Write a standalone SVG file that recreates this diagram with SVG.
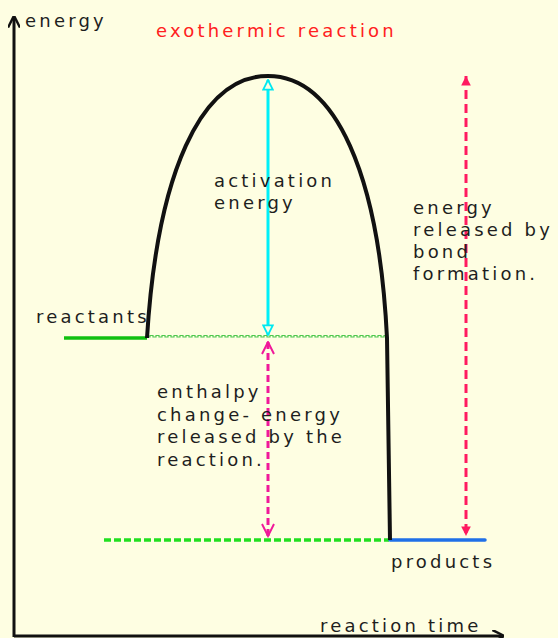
<svg xmlns="http://www.w3.org/2000/svg" width="558" height="638" viewBox="0 0 558 638">
<style>
text{font-family:"DejaVu Sans","Liberation Sans",sans-serif;font-size:18px;letter-spacing:3.2px;fill:#1e1e1e}
.red{fill:#ff2020}
</style>
<defs>
<marker id="ax" viewBox="0 0 10 10" refX="8" refY="5" markerWidth="4" markerHeight="4" orient="auto"><path d="M0,0 L10,5 L0,10" fill="none" stroke="#111" stroke-width="2"/></marker>
<marker id="cy" viewBox="0 0 10 10" refX="9" refY="5" markerWidth="4" markerHeight="4" orient="auto-start-reverse"><path d="M1,1 L9,5 L1,9 Z" fill="#fefee2" stroke="#00e8f0" stroke-width="1.5"/></marker>
<marker id="mg" viewBox="0 0 10 10" refX="9" refY="5" markerWidth="5" markerHeight="5" orient="auto-start-reverse"><path d="M1,1 L9,5 L1,9" fill="none" stroke="#f0189a" stroke-width="1.3"/></marker>
<marker id="rd" viewBox="0 0 10 10" refX="9" refY="5" markerWidth="4" markerHeight="4" orient="auto-start-reverse"><path d="M1,1 L9,5 L1,9 Z" fill="#ff1a60"/></marker>
</defs>
<rect width="558" height="638" fill="#fefee2"/>
<g id="axes">
<line x1="14" y1="637" x2="14" y2="18" stroke="#111" stroke-width="3" marker-end="url(#ax)"/>
<line x1="14" y1="636" x2="502" y2="636" stroke="#111" stroke-width="3" marker-end="url(#ax)"/>
</g>
<g id="levels">
<line x1="64" y1="338" x2="147" y2="338" stroke="#10c010" stroke-width="3.5"/>
<path d="M147,337 h3 v-1.5 h3 v1.5 h3 v-1.5 h3 v1.5 h3 v-1.5 h3 v1.5 h3 v-1.5 h3 v1.5 h3 v-1.5 h3 v1.5 h3 v-1.5 h3 v1.5 h3 v-1.5 h3 v1.5 h3 v-1.5 h3 v1.5 h3 v-1.5 h3 v1.5 h3 v-1.5 h3 v1.5 h3 v-1.5 h3 v1.5 h3 v-1.5 h3 v1.5 h3 v-1.5 h3 v1.5 h3 v-1.5 h3 v1.5 h3 v-1.5 h3 v1.5 h3 v-1.5 h3 v1.5 h3 v-1.5 h3 v1.5 h3 v-1.5 h3 v1.5 h3 v-1.5 h3 v1.5 h3 v-1.5 h3 v1.5 h3 v-1.5 h3 v1.5 h3 v-1.5 h3 v1.5 h3 v-1.5 h3 v1.5 h3 v-1.5 h3 v1.5 h3 v-1.5 h3 v1.5 h3 v-1.5 h3 v1.5 h3 v-1.5 h3 v1.5 h3 v-1.5 h3 v1.5 h3 v-1.5 h3 v1.5 h3 v-1.5 h3 v1.5 h3 v-1.5 h3 v1.5 h3 v-1.5 h3 v1.5 h3 v-1.5 h3 v1.5 h3 v-1.5 h3 v1.5 h3 v-1.5 h3 v1.5 h3 v-1.5 h3 v1.5 h3 v-1.5 h3 v1.5 h3 v-1.5 h3 v1.5 h3 v-1.5 h3 v1.5 h3 v-1.5 h3 v1.5" fill="none" stroke="#50c850" stroke-width="1.2"/>
<line x1="104" y1="540" x2="389" y2="540" stroke="#20e020" stroke-width="3.5" stroke-dasharray="7,3"/>
<line x1="390" y1="540" x2="485" y2="540" stroke="#2070e8" stroke-width="3.5" stroke-linecap="round"/>
</g>
<g id="curve">
<path d="M147,338 C157,175 200,76 268,76 C336,76 379,175 387,338 L390,540" fill="none" stroke="#111" stroke-width="4"/>
</g>
<g id="connectors">
<line x1="268" y1="80" x2="268" y2="335" stroke="#00f0f8" stroke-width="3" marker-start="url(#cy)" marker-end="url(#cy)"/>
<line x1="268" y1="342" x2="268" y2="536" stroke="#f0189a" stroke-width="3" stroke-dasharray="7,4" marker-start="url(#mg)" marker-end="url(#mg)"/>
<line x1="466" y1="76" x2="466" y2="536" stroke="#ff1a60" stroke-width="3" stroke-dasharray="9,5" marker-start="url(#rd)" marker-end="url(#rd)"/>
</g>
<g id="labels">
<text x="25" y="27">energy</text>
<text x="156" y="37" class="red">exothermic reaction</text>
<text x="36" y="323">reactants</text>
<text x="214" y="187">activation</text>
<text x="214" y="209">energy</text>
<text x="413" y="214">energy</text>
<text x="413" y="236">released by</text>
<text x="413" y="258">bond</text>
<text x="413" y="280">formation.</text>
<text x="157" y="398">enthalpy</text>
<text x="157" y="421">change- energy</text>
<text x="157" y="443">released by the</text>
<text x="157" y="466">reaction.</text>
<text x="391" y="568">products</text>
<text x="320" y="632">reaction time</text>
</g>
</svg>
